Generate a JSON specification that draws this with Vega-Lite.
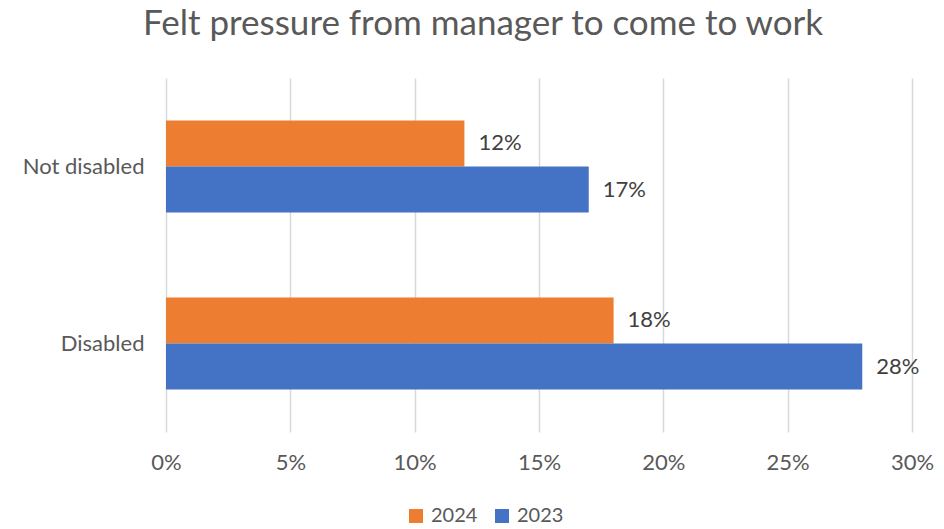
{
  "$schema": "https://vega.github.io/schema/vega-lite/v6.json",
  "width": 746,
  "height": 354,
  "autosize": {"type": "none"},
  "padding": {"left": 166, "top": 78, "right": 32, "bottom": 97},
  "background": "white",
  "config": {
    "view": {"stroke": null},
    "font": "Lato"
  },
  "title": {
    "text": "Felt pressure from manager to come to work",
    "fontSize": 35,
    "fontWeight": "normal",
    "color": "#595959",
    "font": "Lato",
    "anchor": "middle",
    "dx": -56,
    "baseline": "alphabetic",
    "offset": 8
  },
  "data": {
    "values": [
      {"group": "Not disabled", "year": "2024", "value": 0.12},
      {"group": "Not disabled", "year": "2023", "value": 0.17},
      {"group": "Disabled", "year": "2024", "value": 0.18},
      {"group": "Disabled", "year": "2023", "value": 0.28}
    ]
  },
  "encoding": {
    "y": {
      "field": "group",
      "type": "nominal",
      "sort": ["Not disabled", "Disabled"],
      "scale": {"paddingInner": 0.48, "paddingOuter": 0.24},
      "axis": {
        "title": null,
        "domain": false,
        "ticks": false,
        "tickSize": 0,
        "labelPadding": 22,
        "labelFontSize": 22,
        "labelColor": "#595959",
        "labelFont": "Lato"
      }
    },
    "yOffset": {
      "field": "year",
      "type": "nominal",
      "sort": ["2024", "2023"]
    },
    "x": {
      "field": "value",
      "type": "quantitative",
      "scale": {"domain": [0, 0.3], "nice": false},
      "axis": {
        "title": null,
        "format": ".0%",
        "values": [0, 0.05, 0.1, 0.15, 0.2, 0.25, 0.3],
        "domain": false,
        "ticks": false,
        "tickSize": 0,
        "labelFlush": false,
        "labelPadding": 20,
        "labelFontSize": 22,
        "labelColor": "#595959",
        "labelFont": "Lato",
        "grid": true,
        "gridColor": "#D9D9D9",
        "gridWidth": 1.5
      }
    }
  },
  "layer": [
    {
      "mark": {"type": "bar"},
      "encoding": {
        "color": {
          "field": "year",
          "type": "nominal",
          "scale": {"domain": ["2024", "2023"], "range": ["#ED7D31", "#4472C4"]},
          "legend": {
            "title": null,
            "orient": "none",
            "legendX": 240,
            "legendY": 428,
            "direction": "horizontal",
            "symbolType": "square",
            "symbolSize": 196,
            "symbolStrokeWidth": 0,
            "labelFontSize": 20,
            "labelFont": "Lato",
            "labelColor": "#595959",
            "labelOffset": 5,
            "columnPadding": 14
          }
        }
      }
    },
    {
      "mark": {"type": "text", "align": "left", "baseline": "middle", "dx": 14, "fontSize": 22, "color": "#404040", "font": "Lato"},
      "encoding": {
        "text": {"field": "value", "type": "quantitative", "format": ".0%"}
      }
    }
  ]
}
